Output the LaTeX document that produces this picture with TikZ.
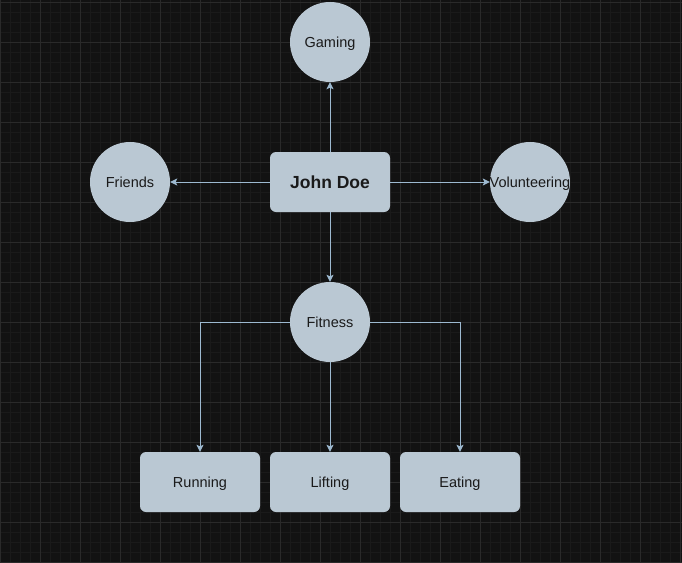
\documentclass[tikz,border=0pt]{standalone}
\usepackage{fontspec}
\setmainfont{Liberation Sans}
\usetikzlibrary{arrows.meta}
\definecolor{canvas}{HTML}{121212}
\definecolor{minorgrid}{HTML}{1A1A1A}
\definecolor{majorgrid}{HTML}{2A2A2A}
\definecolor{bluegray}{HTML}{BAC8D3}
\definecolor{wire}{HTML}{9DB9D0}
\definecolor{ink}{HTML}{1A1A1A}
\tikzset{
  topic/.style={circle,fill=bluegray,minimum size=80pt,inner sep=0pt,text=ink,
    text height=12.4pt,text depth=2pt,font=\fontsize{14.5}{16}\selectfont},
  card/.style={rectangle,rounded corners=6pt,fill=bluegray,minimum width=120pt,
    minimum height=60pt,inner sep=0pt,text=ink,text height=12.4pt,text depth=2pt,
    font=\fontsize{14.5}{16}\selectfont},
  link/.style={draw=wire,line width=1pt,-{Stealth[length=7pt,width=7pt,inset=1.5pt]}}
}

\begin{document}
\begin{tikzpicture}[x=1pt,y=-1pt]
% canvas and grid
\fill[canvas] (0,0) rectangle (682,562);
\useasboundingbox (0,0) rectangle (682,562);
\foreach \x in {10,20,...,680} \draw[minorgrid,line width=1pt] (\x,0)--(\x,562);
\foreach \y in {12,22,...,552} \draw[minorgrid,line width=1pt] (0,\y)--(682,\y);
\foreach \x in {0,40,...,680} \draw[majorgrid,line width=1pt] (\x,0)--(\x,562);
\foreach \y in {2,42,...,562} \draw[majorgrid,line width=1pt] (0,\y)--(682,\y);
% nodes
\node[card,text height=15pt,text depth=2.5pt,
  font=\bfseries\fontsize{17.5}{20}\selectfont] (john) at (330,182) {John Doe};
\node[topic] (gaming) at (330,42) {Gaming};
\node[topic] (friends) at (130,182) {Friends};
\node[topic] (volunteer) at (530,182) {\makebox[0pt]{Volunteering}};
\node[topic] (fitness) at (330,322) {Fitness};
\node[card] (running) at (200,482) {Running};
\node[card] (lifting) at (330,482) {Lifting};
\node[card] (eating) at (460,482) {Eating};
% connectors
\draw[link] (john.north) -- (gaming.south);
\draw[link] (john.west) -- (friends.east);
\draw[link] (john.east) -- (volunteer.west);
\draw[link] (john.south) -- (fitness.north);
\draw[link] (fitness.west) -| (running.north);
\draw[link] (fitness.south) -- (lifting.north);
\draw[link] (fitness.east) -| (eating.north);
\end{tikzpicture}
\end{document}
